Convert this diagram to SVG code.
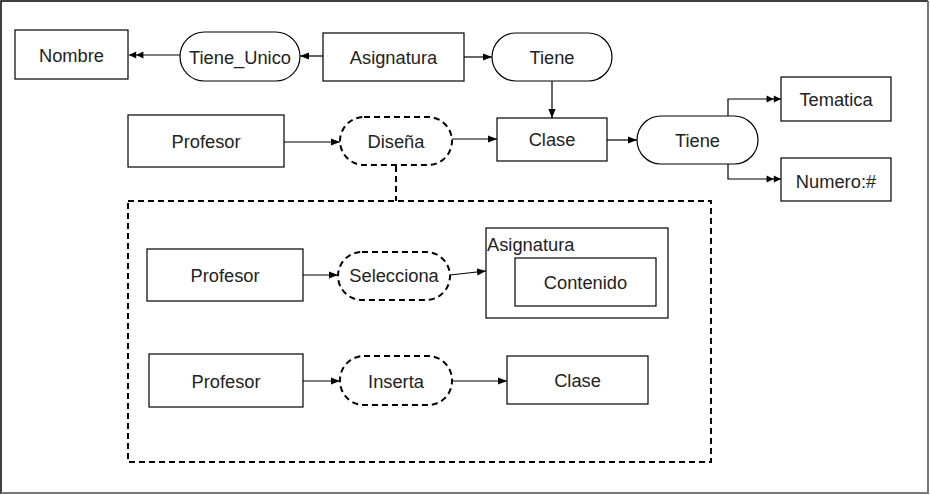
<svg xmlns="http://www.w3.org/2000/svg" width="930" height="495" viewBox="0 0 930 495">
<defs>
<style>
.box{fill:#fff;stroke:#000;stroke-width:1.2}
.dash{fill:#fff;stroke:#000;stroke-width:2;stroke-dasharray:6 4}
.t{font-family:"Liberation Sans",Arial,sans-serif;font-size:18.3px;fill:#222;text-anchor:middle;dominant-baseline:central}
.c{fill:none;stroke:#000;stroke-width:1.2}
</style>
<marker id="a" viewBox="0 0 10 10" refX="10" refY="5" markerWidth="9" markerHeight="9" markerUnits="userSpaceOnUse" orient="auto">
<path d="M0,1 L10,5 L0,9 Z" fill="#000"/>
</marker>
<marker id="aa" viewBox="0 0 16 10" refX="16" refY="5" markerWidth="15" markerHeight="9" markerUnits="userSpaceOnUse" orient="auto">
<path d="M0,1 L8,5 L0,9 Z M8,1 L16,5 L8,9 Z" fill="#000"/>
</marker>
</defs>
<rect x="0" y="0" width="930" height="495" fill="#fff"/>
<path d="M1,494 L1,1 L928,1" fill="none" stroke="#000" stroke-width="1.5"/>
<path d="M928,1 L928,493 L1,493" fill="none" stroke="#777" stroke-width="2"/>

<g id="connectors">
<path class="c" d="M180,55 L129,55" marker-end="url(#aa)"/>
<path class="c" d="M323,56 L300,56" marker-end="url(#a)"/>
<path class="c" d="M464,57 L492,57" marker-end="url(#a)"/>
<path class="c" d="M552,81 L552,118" marker-end="url(#a)"/>
<path class="c" d="M284,142 L340,142" marker-end="url(#a)"/>
<path class="c" d="M452,139 L497,139" marker-end="url(#a)"/>
<path class="c" d="M607,140 L637,140" marker-end="url(#a)"/>
<path class="c" d="M728,116 L728,99 L781,99" marker-end="url(#aa)"/>
<path class="c" d="M728,164 L728,179 L781,179" marker-end="url(#aa)"/>
<path d="M396,166 L396,201" fill="none" stroke="#000" stroke-width="2" stroke-dasharray="6 4"/>
<path class="c" d="M303,275 L338,275" marker-end="url(#a)"/>
<path class="c" d="M450,275 L486,271" marker-end="url(#a)"/>
<path class="c" d="M303,381 L340,381" marker-end="url(#a)"/>
<path class="c" d="M452,381 L507,381" marker-end="url(#a)"/>
</g>

<g id="nombre"><rect class="box" x="15" y="30" width="113" height="49"/><text class="t" x="71.5" y="55">Nombre</text></g>
<g id="tiene-unico"><rect class="box" x="180" y="32" width="120" height="49" rx="24.5"/><text class="t" x="240" y="57">Tiene_Unico</text></g>
<g id="asignatura"><rect class="box" x="323" y="33" width="141" height="48"/><text class="t" x="393.5" y="57">Asignatura</text></g>
<g id="tiene-top"><rect class="box" x="492" y="33" width="120" height="48" rx="24"/><text class="t" x="552" y="57">Tiene</text></g>
<g id="profesor-top"><rect class="box" x="128" y="115" width="156" height="52"/><text class="t" x="206" y="141">Profesor</text></g>
<g id="disena"><rect class="dash" x="340" y="117" width="112" height="48" rx="24"/><text class="t" x="396" y="141">Diseña</text></g>
<g id="clase-top"><rect class="box" x="497" y="118" width="110" height="43"/><text class="t" x="552" y="139">Clase</text></g>
<g id="tiene-right"><rect class="box" x="637" y="116" width="121" height="48" rx="24"/><text class="t" x="697.5" y="140">Tiene</text></g>
<g id="tematica"><rect class="box" x="781" y="77" width="110" height="44"/><text class="t" x="836" y="99">Tematica</text></g>
<g id="numero"><rect class="box" x="781" y="158" width="110" height="43"/><text class="t" x="836" y="181">Numero:#</text></g>

<g id="group-box"><rect x="128" y="201" width="583" height="261" fill="none" stroke="#000" stroke-width="2" stroke-dasharray="6 4"/></g>

<g id="profesor-1"><rect class="box" x="147" y="249" width="156" height="52"/><text class="t" x="225" y="275">Profesor</text></g>
<g id="selecciona"><rect class="dash" x="338" y="252" width="112" height="48" rx="24"/><text class="t" x="394" y="275">Selecciona</text></g>
<g id="asignatura-container"><rect class="box" x="486" y="228" width="182" height="90"/><text class="t" x="487" y="244" style="text-anchor:start">Asignatura</text></g>
<g id="contenido"><rect class="box" x="515" y="258" width="141" height="48"/><text class="t" x="585.5" y="282">Contenido</text></g>
<g id="profesor-2"><rect class="box" x="149" y="354" width="154" height="53"/><text class="t" x="226" y="381">Profesor</text></g>
<g id="inserta"><rect class="dash" x="340" y="356" width="112" height="49" rx="24"/><text class="t" x="396" y="381">Inserta</text></g>
<g id="clase-2"><rect class="box" x="507" y="356" width="141" height="48"/><text class="t" x="577.5" y="380">Clase</text></g>
</svg>
